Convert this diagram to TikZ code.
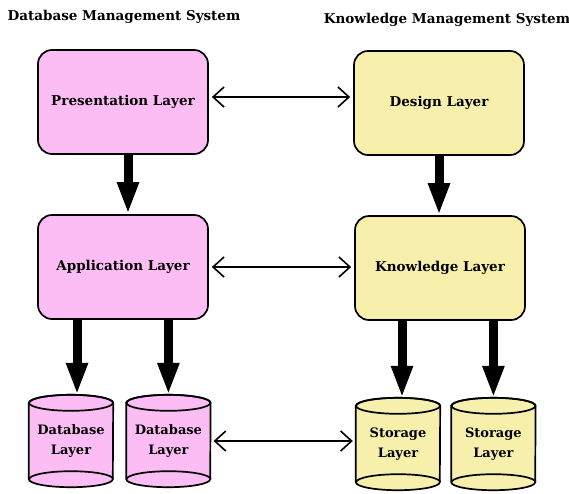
\documentclass[tikz,border=0pt]{standalone}
\usepackage{fontspec}
\setmainfont{DejaVu Serif}
\usetikzlibrary{positioning}
\usetikzlibrary{arrows.meta}
\usetikzlibrary{backgrounds}

\definecolor{dbpink}{RGB}{252,188,244}
\definecolor{kmyellow}{RGB}{246,240,172}

\begin{document}
\begin{tikzpicture}
  [ x=1pt, y=-1pt
  , layer/.style={ draw
                 , line width=1.7pt
                 , rounded corners=14pt
                 , minimum width=170pt
                 , minimum height=104pt
                 , font=\bfseries\fontsize{13.5}{19}\selectfont
                 }
  , store/.style={ minimum width=84pt
                 , minimum height=92pt
                 , inner sep=0pt
                 , align=center
                 , font=\bfseries\fontsize{13}{19.5}\selectfont
                 }
  , flow/.style={line width=9pt, -{Triangle[width=20pt, length=32pt]}}
  , link/.style={ line width=1.6pt
                , {Straight Barb[length=11pt, width=20pt]}-{Straight Barb[length=11pt, width=20pt]}
                , shorten <=3pt, shorten >=3pt
                }
  ]

  \useasboundingbox (0,0) rectangle (569,493);

  \node (dbms) at (124,17) [font=\bfseries\fontsize{13.5}{16}\selectfont] {Database Management System};
  \node (kms)  at (447,20) [font=\bfseries\fontsize{13.5}{16}\selectfont] {Knowledge Management System};

  \node (presentation) at (123,102) [layer, fill=dbpink]   {Presentation Layer};
  \node (application)  at (123,267) [layer, fill=dbpink]   {Application Layer};
  \node (design)       at (439,103) [layer, fill=kmyellow] {Design Layer};
  \node (knowledge)    at (440,268) [layer, fill=kmyellow] {Knowledge Layer};

  \node (db1) at (71,441) [store] {Database\\Layer};
  \node (db2) [store, right=13pt of db1] {Database\\Layer};
  \node (st1) at (398,444) [store] {Storage\\Layer};
  \node (st2) [store, right=11pt of st1] {Storage\\Layer};

  \begin{scope}[on background layer]
    \foreach \c/\col in {db1/dbpink, db2/dbpink, st1/kmyellow, st2/kmyellow}
    {
      \draw [line width=1.7pt, fill=\col]
        ([yshift=-8pt]\c.north west) -- ([yshift=8pt]\c.south west)
        arc [start angle=180, end angle=360, x radius=42pt, y radius=8pt]
        -- ([yshift=-8pt]\c.north east)
        arc [start angle=0, end angle=180, x radius=42pt, y radius=8pt] -- cycle;
      \draw [line width=1.7pt] ([yshift=-8pt]\c.north) ellipse [x radius=42pt, y radius=8pt];
      \draw [line width=1.7pt] ([yshift=8pt]\c.south east)
        arc [start angle=0, end angle=180, x radius=42pt, y radius=8pt];
    }
  \end{scope}

  \draw [flow] ([xshift=5pt]presentation.south) to ([xshift=5pt]application.north);
  \draw [flow] (design.south) to (design.south |- knowledge.north);
  \draw [flow] (application.south -| db1) ++(6,0) coordinate (a1) (a1) to (a1 |- db1.north);
  \draw [flow] (application.south -| db2) to (db2.north);
  \draw [flow] (knowledge.south -| st1) ++(4,0) coordinate (k1) (k1) to (k1 |- st1.north);
  \draw [flow] (knowledge.south -| st2) to (st2.north);

  \draw [link] ([yshift=5pt]presentation.east) to ([yshift=5pt]presentation.east -| design.west);
  \draw [link] (application.east) to (application.east -| knowledge.west);
  \draw [link] (db2.east) to (db2.east -| st1.west);

\end{tikzpicture}
\end{document}
